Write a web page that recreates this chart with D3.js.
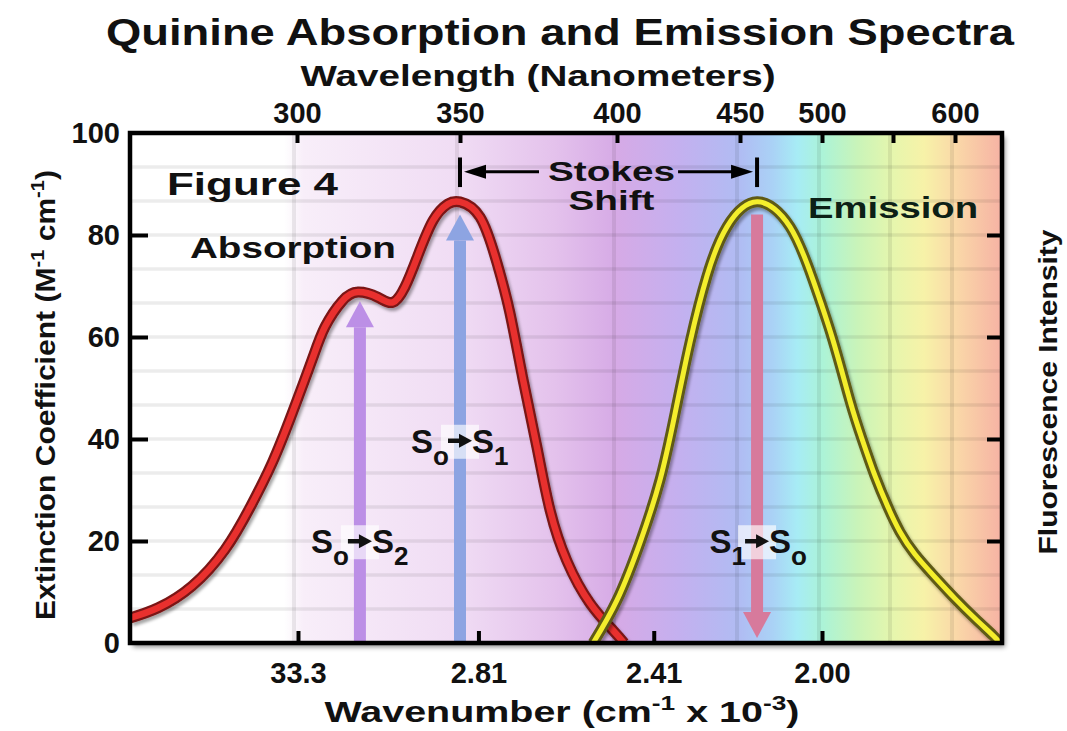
<!DOCTYPE html>
<html>
<head>
<meta charset="utf-8">
<script src="https://cdn.jsdelivr.net/npm/d3@7"></script>
<style>
body { margin: 0; background: #fff; }
text { font-family: "Liberation Sans", Arial, sans-serif; font-weight: bold; fill: #111; }
</style>
</head>
<body>
<svg id="chart" width="1067" height="731"></svg>
<script>
// top axis, wavelength in nm (550 has a tick but no label)
var wavelengthTicks = [300, 350, 400, 450, 500, 550, 600];
var wavelengthLabels = ["300", "350", "400", "450", "500", "", "600"];
// bottom axis, wavenumber (the original prints 33.3 for 3.33)
var wavenumberTicks = [3.33, 2.81, 2.41, 2.00];
var wavenumberLabels = ["33.3", "2.81", "2.41", "2.00"];
var yTicks = [0, 20, 40, 60, 80, 100];

// absorption spectrum (red), nm -> extinction
var absNm  = [249, 257.6, 268, 278, 285.6, 292.4, 298.5, 304.6, 308.6, 313.8, 318.7, 324.8, 329.4, 333.1, 336.8, 341.7, 346.3, 350, 356.4, 361.8, 365.9, 370.1, 374.5, 378.7, 384.1, 391.4, 398.7, 402.9];
var absVal = [4.9, 6.9, 11.2, 18.3, 26.5, 35.3, 45, 55.5, 62, 67, 68.8, 67.8, 66.8, 69.8, 75.5, 82.8, 86.1, 86.5, 83.5, 74.5, 64.7, 51.6, 38.4, 26, 16, 7.8, 2.5, 0];

// emission spectrum (yellow), nm -> intensity
var emNm  = [392.4, 400, 409.3, 417.5, 423.6, 429.7, 436.6, 444.7, 460.4, 480.5, 494.5, 507.7, 519.7, 528.2, 537.3, 546.5, 555.6, 567.7, 583.9, 600, 616.2, 630.7, 636.4];
var emVal = [0, 8.4, 19.6, 32, 45, 59, 72, 81.6, 86.5, 81.6, 71.2, 59.4, 47.5, 40, 32.8, 26.6, 21.8, 17.4, 12.9, 8.7, 4.8, 1.5, 0];

// electronic transitions drawn as arrows
var transLeft   = [["S", "o"], ["S", "o"], ["S", "1"]];
var transRight  = [["S", "2"], ["S", "1"], ["S", "o"]];
var transNm     = [319.3, 350, 460.4];
var transFrom   = [0, 0, 84];
var transTo     = [67, 84, 1];
var transLabelY = [17.6, 37.3, 17.6];
var transColors = ["#bc8fe6", "#8da4e2", "#d77a9c"];

// Stokes shift between the two maxima
var stokesNm = [350, 460.4];

var svg = d3.select("#chart");
var plotLeft = 130, plotRight = 1002, plotTop = 133, plotBottom = 643;

// the printed wavelength axis is not uniform, so piecewise scale
var x = d3.scaleLinear()
    .domain([249, 300, 350, 400, 450, 500, 550, 600, 638])
    .range([plotLeft, 297, 460, 617, 740, 822, 893, 955, plotRight]);
var y = d3.scaleLinear().domain([0, 100]).range([plotBottom, plotTop]);

var defs = svg.append("defs");

// spectrum background
var grad = defs.append("linearGradient").attr("id", "spec")
    .attr("gradientUnits", "userSpaceOnUse")
    .attr("x1", plotLeft).attr("x2", plotRight).attr("y1", 0).attr("y2", 0);
var bgStops = [[249, "#ffffff"], [296, "#ffffff"], [302, "#f8eef9"], [350, "#f0dcf4"], [380, "#e4c2ec"],
    [400, "#d6aae6"], [425, "#c4b0ef"], [450, "#b0bcf3"], [470, "#aad2f6"], [485, "#a7ecf5"],
    [500, "#abf3d8"], [525, "#c9f4b9"], [550, "#e6f6ad"], [575, "#f7f2a8"], [600, "#fad9a8"], [638, "#f6b2a4"]];
bgStops.forEach(function(s) {
    grad.append("stop").attr("offset", (x(s[0]) - plotLeft) / (plotRight - plotLeft)).attr("stop-color", s[1]);
});

var sh = defs.append("filter").attr("id", "shadow").attr("x", "-5%").attr("y", "-5%").attr("width", "115%").attr("height", "115%");
sh.append("feDropShadow").attr("dx", 3).attr("dy", 4).attr("stdDeviation", 2.5)
    .attr("flood-color", "#000").attr("flood-opacity", 0.45);
var sh2 = defs.append("filter").attr("id", "cshadow").attr("x", "-5%").attr("y", "-5%").attr("width", "115%").attr("height", "115%");
sh2.append("feDropShadow").attr("dx", 2).attr("dy", 3).attr("stdDeviation", 1.5)
    .attr("flood-color", "#000").attr("flood-opacity", 0.35);

defs.append("clipPath").attr("id", "plot").append("rect")
    .attr("x", plotLeft).attr("y", plotTop).attr("width", plotRight - plotLeft).attr("height", plotBottom - plotTop);

// frame with shadow, background inside
svg.append("rect").attr("x", plotLeft).attr("y", plotTop).attr("width", plotRight - plotLeft).attr("height", plotBottom - plotTop)
    .attr("fill", "url(#spec)").attr("filter", "url(#shadow)");

// grid
var g = svg.append("g").attr("clip-path", "url(#plot)");
g.selectAll(".hg").data(d3.range(1, 15).map(function(i) { return i * 100 / 15; }))
  .enter().append("line")
    .attr("x1", plotLeft).attr("x2", plotRight)
    .attr("y1", function(d) { return y(d); }).attr("y2", function(d) { return y(d); })
    .attr("stroke", "rgba(0,0,0,0.075)").attr("stroke-width", 3.5);
g.selectAll(".vg").data(wavelengthTicks)
  .enter().append("line")
    .attr("x1", function(d) { return x(d) - 3; }).attr("x2", function(d) { return x(d) - 3; })
    .attr("y1", plotTop).attr("y2", plotBottom)
    .attr("stroke", "rgba(0,0,0,0.075)").attr("stroke-width", 4);

// transition arrows
var head = 26, headW = 14;
transNm.forEach(function(nm, i) {
    var cx = x(nm), y0 = y(transFrom[i]), y1 = y(transTo[i]);
    var dir = y1 < y0 ? 1 : -1; // 1 = pointing up
    var shaftEnd = y1 + dir * head;
    g.append("line").attr("x1", cx).attr("x2", cx).attr("y1", y0).attr("y2", shaftEnd)
        .attr("stroke", transColors[i]).attr("stroke-width", 12);
    g.append("path")
        .attr("d", "M" + (cx - headW) + "," + shaftEnd + "L" + cx + "," + y1 + "L" + (cx + headW) + "," + shaftEnd + "Z")
        .attr("fill", transColors[i]);
});

// absorption and emission curves
var line = d3.line().curve(d3.curveNatural)
    .x(function(d) { return x(d[0]); }).y(function(d) { return y(d[1]); });
var absData = d3.zip(absNm, absVal), emData = d3.zip(emNm, emVal);

var cg = g.append("g");
cg.append("path").attr("d", line(absData)).attr("fill", "none")
    .attr("stroke", "#7a1414").attr("stroke-width", 11).attr("filter", "url(#cshadow)");
cg.append("path").attr("d", line(absData)).attr("fill", "none")
    .attr("stroke", "#e8302e").attr("stroke-width", 6.5);
cg.append("path").attr("d", line(emData)).attr("fill", "none")
    .attr("stroke", "#5e5a14").attr("stroke-width", 11).attr("filter", "url(#cshadow)");
cg.append("path").attr("d", line(emData)).attr("fill", "none")
    .attr("stroke", "#f4ee2c").attr("stroke-width", 5);

// transition labels: S_a -> S_b with a small black arrow in between
function stateText(parent, xpos, anchor, by, parts) {
    var t = parent.append("text").attr("x", xpos).attr("y", by).attr("text-anchor", anchor)
        .style("font-size", "33px");
    t.append("tspan").text(parts[0]);
    t.append("tspan").attr("dy", 12).style("font-size", "26px").text(parts[1]);
}
transNm.forEach(function(nm, i) {
    var cx = x(nm), by = y(transLabelY[i]);
    svg.append("rect").attr("x", cx - 19).attr("y", by - 28).attr("width", 38).attr("height", 34)
        .attr("fill", "#fff").attr("opacity", 0.65);
    stateText(svg, cx - 11, "end", by, transLeft[i]);
    stateText(svg, cx + 12, "start", by, transRight[i]);
    var ay = by - 12;
    svg.append("line").attr("x1", cx - 12).attr("x2", cx + 2).attr("y1", ay).attr("y2", ay)
        .attr("stroke", "#111").attr("stroke-width", 4.5);
    svg.append("path").attr("d", "M" + (cx - 1) + "," + (ay - 7) + "L" + (cx + 12) + "," + ay + "L" + (cx - 1) + "," + (ay + 7) + "Z")
        .attr("fill", "#111");
});

// frame
svg.append("rect").attr("x", plotLeft).attr("y", plotTop).attr("width", plotRight - plotLeft).attr("height", plotBottom - plotTop)
    .attr("fill", "none").attr("stroke", "#000").attr("stroke-width", 4.5);

function styleAxis(sel, size) {
    sel.select(".domain").remove();
    sel.selectAll(".tick line").attr("stroke", "#000").attr("stroke-width", 4);
    sel.selectAll(".tick text").style("font-size", size + "px")
        .style("font-family", "\"Liberation Sans\", Arial, sans-serif").style("font-weight", "bold").attr("fill", "#111");
}

var topAxis = svg.append("g").attr("transform", "translate(0," + plotTop + ")")
    .call(d3.axisTop(x).tickValues(wavelengthTicks).tickSize(-10).tickPadding(10)
        .tickFormat(function(d, i) { return wavelengthLabels[i]; }));
styleAxis(topAxis, 29);

var bottomAxis = svg.append("g").attr("transform", "translate(0," + plotBottom + ")")
    .call(d3.axisBottom(x).tickValues(wavenumberTicks.map(function(k) { return 1000 / k; }))
        .tickSize(-12).tickPadding(19)
        .tickFormat(function(d, i) { return wavenumberLabels[i]; }));
styleAxis(bottomAxis, 29);

var leftAxis = svg.append("g").attr("transform", "translate(" + plotLeft + ",0)")
    .call(d3.axisLeft(y).tickValues(yTicks).tickSize(-18).tickPadding(10));
styleAxis(leftAxis, 29);
leftAxis.selectAll(".tick line").filter(function(d) { return d === 0 || d === 100; }).remove();

var rightAxis = svg.append("g").attr("transform", "translate(" + plotRight + ",0)")
    .call(d3.axisRight(y).tickValues(yTicks.slice(1, -1)).tickSize(-15).tickFormat(""));
styleAxis(rightAxis, 29);

// Stokes shift marker
var sy = y(92.4);
stokesNm.forEach(function(nm) {
    svg.append("line").attr("x1", x(nm)).attr("x2", x(nm)).attr("y1", y(95.2)).attr("y2", y(89.4))
        .attr("stroke", "#000").attr("stroke-width", 4);
});
var sx0 = x(stokesNm[0]) + 4, sx1 = x(stokesNm[1]) - 4;
svg.append("line").attr("x1", sx0 + 18).attr("x2", sx0 + 75).attr("y1", sy).attr("y2", sy).attr("stroke", "#000").attr("stroke-width", 3);
svg.append("path").attr("d", "M" + sx0 + "," + sy + "L" + (sx0 + 22) + "," + (sy - 7) + "L" + (sx0 + 22) + "," + (sy + 7) + "Z").attr("fill", "#000");
svg.append("line").attr("x1", sx1 - 75).attr("x2", sx1 - 18).attr("y1", sy).attr("y2", sy).attr("stroke", "#000").attr("stroke-width", 3);
svg.append("path").attr("d", "M" + sx1 + "," + sy + "L" + (sx1 - 22) + "," + (sy - 7) + "L" + (sx1 - 22) + "," + (sy + 7) + "Z").attr("fill", "#000");
var smid = (x(stokesNm[0]) + x(stokesNm[1])) / 2 + 3;
svg.append("text").attr("x", smid).attr("y", 181).attr("text-anchor", "middle")
    .attr("textLength", 127).attr("lengthAdjust", "spacingAndGlyphs").style("font-size", "28px").text("Stokes");
svg.append("text").attr("x", smid).attr("y", 210).attr("text-anchor", "middle")
    .attr("textLength", 86).attr("lengthAdjust", "spacingAndGlyphs").style("font-size", "28px").text("Shift");

// annotations
svg.append("text").attr("x", x(260.3)).attr("y", y(87.8)).attr("textLength", 171).attr("lengthAdjust", "spacingAndGlyphs")
    .style("font-size", "32px").text("Figure 4");
svg.append("text").attr("x", x(267.3)).attr("y", y(75.5)).attr("textLength", 206).attr("lengthAdjust", "spacingAndGlyphs")
    .style("font-size", "29px").text("Absorption");
svg.append("text").attr("x", x(491.5)).attr("y", y(83.3)).attr("textLength", 170).attr("lengthAdjust", "spacingAndGlyphs")
    .style("font-size", "29px").style("fill", "#0c2016").text("Emission");

// titles
svg.append("text").attr("x", 560).attr("y", 45).attr("text-anchor", "middle")
    .attr("textLength", 908).attr("lengthAdjust", "spacingAndGlyphs").style("font-size", "37px")
    .text("Quinine Absorption and Emission Spectra");
svg.append("text").attr("x", 538).attr("y", 86).attr("text-anchor", "middle")
    .attr("textLength", 475).attr("lengthAdjust", "spacingAndGlyphs").style("font-size", "29px")
    .text("Wavelength (Nanometers)");

var bt = svg.append("text").attr("x", 562).attr("y", 722).attr("text-anchor", "middle")
    .attr("textLength", 475).attr("lengthAdjust", "spacingAndGlyphs").style("font-size", "30px");
bt.append("tspan").text("Wavenumber (cm");
bt.append("tspan").attr("dy", -12).style("font-size", "20px").text("-1");
bt.append("tspan").attr("dy", 12).text(" x 10");
bt.append("tspan").attr("dy", -12).style("font-size", "20px").text("-3");
bt.append("tspan").attr("dy", 12).text(")");

var lt = svg.append("text").attr("transform", "translate(55,395) rotate(-90)").attr("text-anchor", "middle")
    .attr("textLength", 450).attr("lengthAdjust", "spacingAndGlyphs").style("font-size", "27px");
lt.append("tspan").text("Extinction Coefficient (M");
lt.append("tspan").attr("dy", -11).style("font-size", "18px").text("-1");
lt.append("tspan").attr("dy", 11).text(" cm");
lt.append("tspan").attr("dy", -11).style("font-size", "18px").text("-1");
lt.append("tspan").attr("dy", 11).text(")");

svg.append("text").attr("transform", "translate(1057,392) rotate(-90)").attr("text-anchor", "middle")
    .attr("textLength", 325).attr("lengthAdjust", "spacingAndGlyphs").style("font-size", "25px")
    .text("Fluorescence Intensity");
</script>
</body>
</html>
